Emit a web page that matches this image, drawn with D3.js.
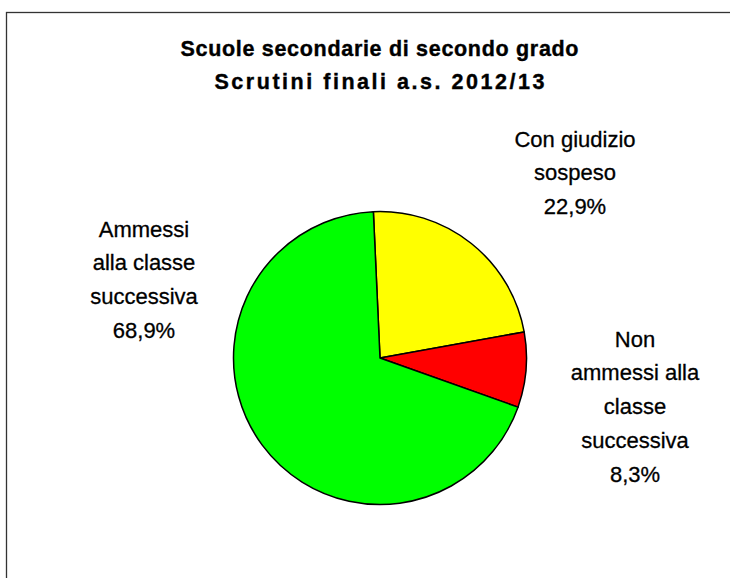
<!DOCTYPE html>
<html><head><meta charset="utf-8">
<script src="https://cdn.jsdelivr.net/npm/d3@7"></script>
<style>html,body{margin:0;padding:0;background:#fff;overflow:hidden}svg{display:block}</style>
</head><body>
<svg id="c" width="730" height="578"></svg>
<script>
const categories = ["Con giudizio sospeso", "Non ammessi alla classe successiva", "Ammessi alla classe successiva"];
const values = [22.9, 8.3, 68.9];
const valueLabels = ["22,9%", "8,3%", "68,9%"];
const labelLines = [["Con giudizio", "sospeso"], ["Non", "ammessi alla", "classe", "successiva"], ["Ammessi", "alla classe", "successiva"]];
const colors = ["#ffff00", "#ff0000", "#00ff00"];
const titleLines = ["Scuole secondarie di secondo grado", "Scrutini finali a.s. 2012/13"];

const svg = d3.select("#c");
svg.append("rect").attr("x", 6.5).attr("y", 12.5).attr("width", 800).attr("height", 700)
  .attr("fill", "#fff").attr("stroke", "#333").attr("stroke-width", 1.3);

const titleWidths = [398, 330];
titleLines.forEach((t, i) => {
  svg.append("text").attr("x", 379.5).attr("y", 56 + i * 33)
    .attr("text-anchor", "middle")
    .attr("font-family", "'Liberation Sans', Arial, sans-serif")
    .attr("font-weight", "bold").attr("font-size", 21.5)
    .attr("stroke", "#000").attr("stroke-width", 0.4)
    .attr("textLength", titleWidths[i]).attr("lengthAdjust", "spacing")
    .text(t);
});

const cx = 380, cy = 358, r = 146.5;
const off = -2.6 * Math.PI / 180;
const pie = d3.pie().sort(null).value(d => d).startAngle(off).endAngle(off + 2 * Math.PI);
const arcs = pie(values);
const arc = d3.arc().innerRadius(0).outerRadius(r);
const g = svg.append("g").attr("transform", `translate(${cx},${cy})`);
g.selectAll("path").data(arcs).join("path")
  .attr("d", arc).attr("fill", (d, i) => colors[i])
  .attr("stroke", "#000").attr("stroke-width", 1.5).attr("stroke-linejoin", "round");

const labelPos = [[575, 146.5], [635, 346.5], [144, 236.5]];
const lh = 33.8;
labelPos.forEach((p, i) => {
  const lines = labelLines[i].concat([valueLabels[i]]);
  svg.append("text").attr("text-anchor", "middle")
    .attr("font-family", "'Liberation Sans', Arial, sans-serif").attr("font-size", 22)
    .attr("stroke", "#000").attr("stroke-width", 0.3)
    .selectAll("tspan").data(lines).join("tspan")
    .attr("x", p[0]).attr("y", (d, j) => p[1] + j * lh).text(d => d);
});
</script>
</body></html>
